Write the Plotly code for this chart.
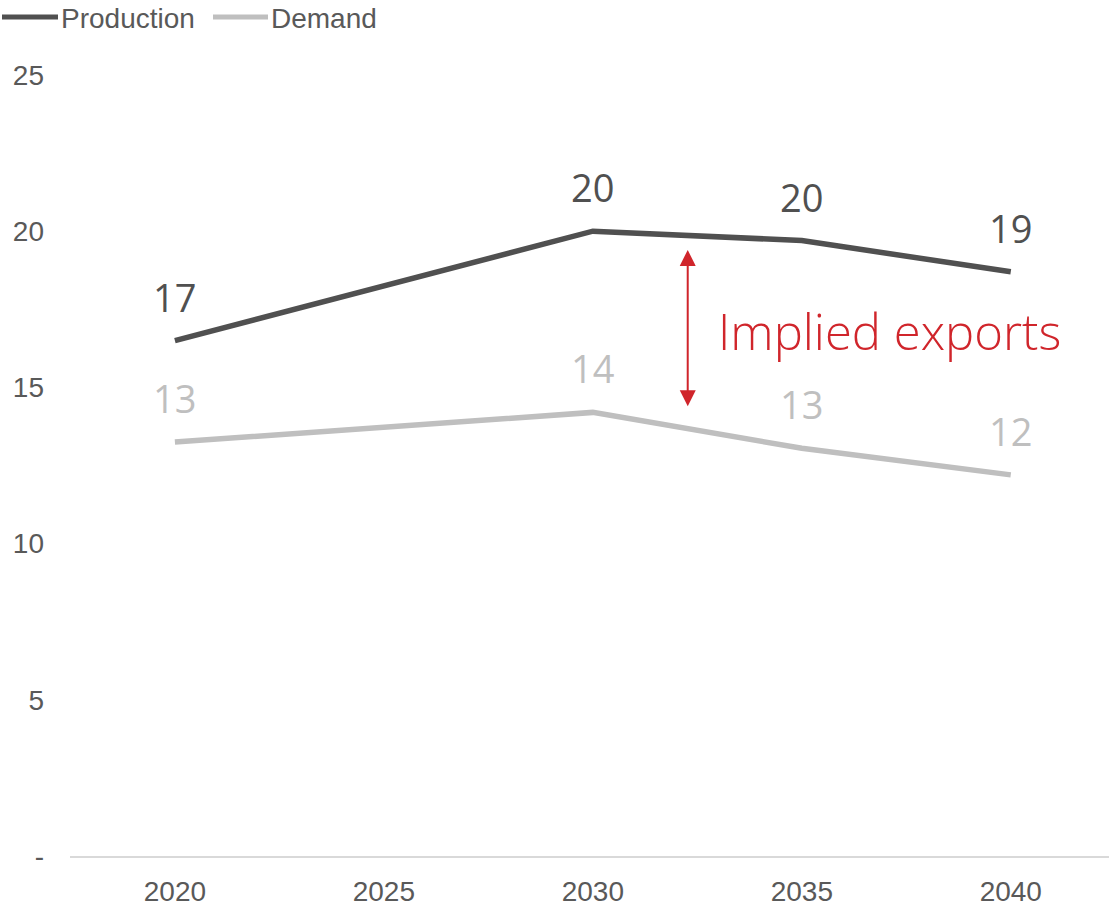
import plotly.graph_objects as go

# Chart data
years = [2020, 2030, 2035, 2040]
production = [16.5, 20.0, 19.7, 18.7]
demand = [13.25, 14.2, 13.05, 12.2]
x_ticks = [2020, 2025, 2030, 2035, 2040]
y_ticks = [0, 5, 10, 15, 20, 25]
y_tick_text = ["-", "5", "10", "15", "20", "25"]

PROD_COLOR = "#505050"
DEM_COLOR = "#BFBFBF"
RED = "#D0252B"
AXIS_FONT = "Liberation Sans, Arial, sans-serif"
LABEL_FONT = "Open Sans, Noto Sans, sans-serif"

W, H = 1109, 908
ML, MR, MT, MB = 70, 0, 75, 52
PW, PH = W - ML - MR, H - MT - MB


def px_x(p):
    return (p - ML) / PW


def px_y(p):
    return (H - MB - p) / PH


def fmt(v):
    return str(int(v + 0.5))


fig = go.Figure()
fig.add_trace(go.Scatter(x=years, y=production, mode="lines", name="Production",
                         line=dict(color=PROD_COLOR, width=5.5), showlegend=False,
                         cliponaxis=False))
fig.add_trace(go.Scatter(x=years, y=demand, mode="lines", name="Demand",
                         line=dict(color=DEM_COLOR, width=5.5), showlegend=False,
                         cliponaxis=False))

annotations = []
for series, color in ((production, PROD_COLOR), (demand, DEM_COLOR)):
    for xv, yv in zip(years, series):
        annotations.append(dict(x=xv, y=yv, text=fmt(yv), showarrow=False,
                                yshift=44, xanchor="center", yanchor="middle",
                                font=dict(family=LABEL_FONT, size=38, color=color)))

# Gap between production and demand
annotations.append(dict(x=2032.27, y=19.4, ax=2032.27, ay=14.35, axref="x", ayref="y",
                        xref="x", yref="y", text="", showarrow=True,
                        arrowside="end+start", arrowhead=2, arrowsize=1.6,
                        arrowwidth=2, arrowcolor=RED, standoff=0, startstandoff=0))
annotations.append(dict(x=2032.95, y=16.8, text="Implied exports", showarrow=False,
                        xanchor="left", yanchor="middle",
                        font=dict(family=LABEL_FONT, size=49, color=RED, weight=300)))

# Legend
shapes = []
for (x0, x1, tx, name, color) in ((2, 58, 59, "Production", PROD_COLOR),
                                  (213, 268, 269, "Demand", DEM_COLOR)):
    shapes.append(dict(type="line", xref="paper", yref="paper",
                       x0=px_x(x0), x1=px_x(x1), y0=px_y(17), y1=px_y(17),
                       line=dict(color=color, width=5)))
    annotations.append(dict(xref="paper", yref="paper", x=px_x(tx), y=px_y(18),
                            text=name, showarrow=False, xanchor="left", yanchor="middle",
                            font=dict(family=AXIS_FONT, size=28, color="#595959")))

fig.update_layout(
    width=W, height=H,
    margin=dict(l=ML, r=MR, t=MT, b=MB, autoexpand=False),
    paper_bgcolor="white", plot_bgcolor="white",
    annotations=annotations, shapes=shapes,
    showlegend=False,
)
fig.update_xaxes(range=[2017.49, 2042.35], tickvals=x_ticks, automargin=False,
                 ticktext=[str(t) for t in x_ticks], showgrid=False, zeroline=False,
                 showline=True, linecolor="#D9D9D9", linewidth=2,
                 ticks="", ticklabelstandoff=9,
                 tickfont=dict(family=AXIS_FONT, size=28, color="#595959"))
fig.update_yaxes(range=[0, 25], tickvals=y_ticks, ticktext=y_tick_text, automargin=False,
                 showgrid=False, zeroline=False, showline=False, ticks="",
                 ticklabelstandoff=25,
                 tickfont=dict(family=AXIS_FONT, size=28, color="#595959"))

fig.write_html("out.html")
